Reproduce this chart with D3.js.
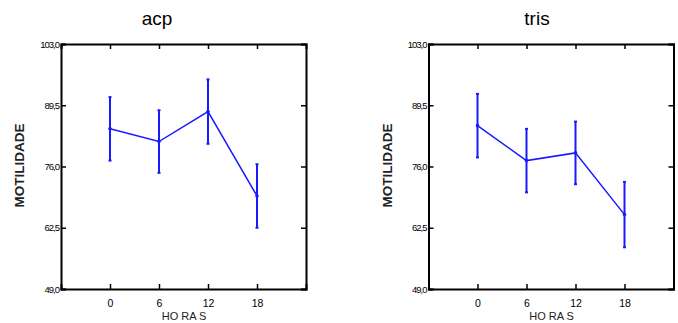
<!DOCTYPE html>
<html><head><meta charset="utf-8">
<script src="https://cdn.jsdelivr.net/npm/d3@7"></script>
<style>body{margin:0;background:#fff}svg{display:block}text{font-family:"Liberation Sans",Arial,sans-serif}</style>
</head><body><svg id="c" width="678" height="323"></svg>
<script>
const hours = [0, 6, 12, 18];
const xTicks = [0, 6, 12, 18];
const yTicks = [49.0, 62.5, 76.0, 89.5, 103.0];
const titles = ["acp", "tris"];
const acpMean = [84.3, 81.5, 88.1, 69.5];
const acpErr = [7.0, 6.9, 7.1, 7.0];
const trisMean = [85.0, 77.3, 79.0, 65.4];
const trisErr = [7.0, 7.0, 6.9, 7.2];
const panels = [
  {title: titles[0], mean: acpMean, err: acpErr, left: 61, titleX: 157},
  {title: titles[1], mean: trisMean, err: trisErr, left: 428.5, titleX: 537}
];
const svg = d3.select("#c");
const fmt = v => d3.format(".1f")(v).replace(".", ",");
const plotTop = 44, size = 245, blue = "#1a1aff";
panels.forEach(p => {
  const x = d3.scaleLinear().domain([-6, 24]).range([p.left, p.left + size]);
  const y = d3.scaleLinear().domain([49, 103]).range([plotTop + size, plotTop]);
  const g = svg.append("g");
  g.append("text").attr("x", p.titleX).attr("y", 25).attr("text-anchor", "middle")
    .attr("font-size", 19).text(p.title);
  const axL = d3.axisLeft(y).tickValues(yTicks).tickSize(-5).tickFormat(fmt).tickPadding(2);
  const axR = d3.axisRight(y).tickValues(yTicks).tickSize(-5).tickFormat("");
  const axB = d3.axisBottom(x).tickValues(xTicks).tickSize(-5).tickPadding(11);
  const axT = d3.axisTop(x).tickValues(xTicks).tickSize(-5).tickFormat("");
  const gl = g.append("g").attr("transform", `translate(${p.left},0)`).call(axL);
  const gr = g.append("g").attr("transform", `translate(${p.left + size},0)`).call(axR);
  const gb = g.append("g").attr("transform", `translate(0,${plotTop + size})`).call(axB);
  const gt = g.append("g").attr("transform", `translate(0,${plotTop})`).call(axT);
  [gl, gr, gb, gt].forEach(a => {
    a.select(".domain").attr("stroke", "#000").attr("stroke-width", 2);
    a.selectAll(".tick line").attr("stroke", "#000").attr("stroke-width", 1.5);
    a.selectAll("text").attr("font-size", 9.5).attr("fill", "#000").attr("font-family", "'Liberation Sans Narrow','DejaVu Sans Condensed',sans-serif");
  });
  gl.selectAll("text").attr("letter-spacing", -1);
  gb.selectAll("text").attr("font-size", 10.5);
  g.append("text").attr("transform", `translate(${p.left - 37},${plotTop + size / 2 - 1}) rotate(-90)`)
    .attr("text-anchor", "middle").attr("font-size", 13.5).attr("font-weight", "bold").attr("fill", "#222").text("MOTILIDADE");
  g.append("text").attr("x", p.left + 123).attr("y", 320).attr("text-anchor", "middle")
    .attr("font-size", 11).attr("fill", "#222").text("HO RA S");
  const line = d3.line().x((d, i) => x(hours[i])).y(d => y(d));
  g.append("path").datum(p.mean).attr("d", line).attr("fill", "none").attr("stroke", blue).attr("stroke-width", 1.5);
  hours.forEach((h, i) => {
    g.append("line").attr("x1", x(h)).attr("x2", x(h)).attr("y1", y(p.mean[i] - p.err[i])).attr("y2", y(p.mean[i] + p.err[i]))
      .attr("stroke", blue).attr("stroke-width", 2);
    [p.mean[i] - p.err[i], p.mean[i] + p.err[i]].forEach(v => {
      g.append("line").attr("x1", x(h) - 1.5).attr("x2", x(h) + 1.5).attr("y1", y(v)).attr("y2", y(v)).attr("stroke", blue).attr("stroke-width", 2);
    });
    g.append("circle").attr("cx", x(h)).attr("cy", y(p.mean[i])).attr("r", 1.8).attr("fill", blue);
  });
});
</script></body></html>
